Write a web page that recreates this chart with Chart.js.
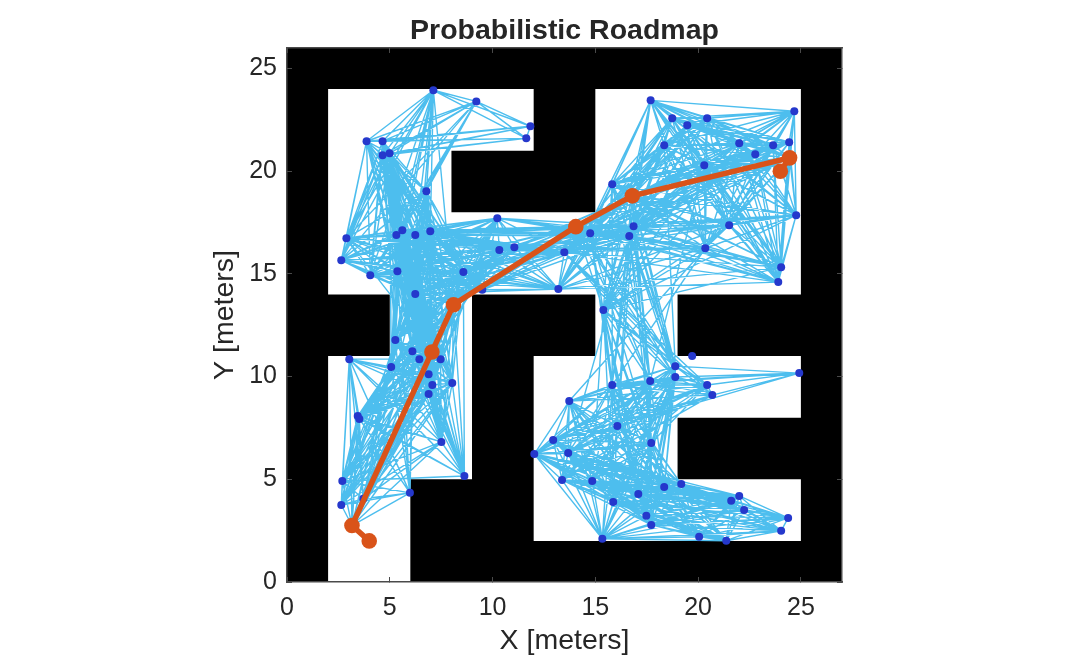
<!DOCTYPE html>
<html><head><meta charset="utf-8">
<style>html,body{margin:0;padding:0;background:#fff;overflow:hidden}canvas{display:block}</style>
<script src="https://cdn.jsdelivr.net/npm/chart.js@4"></script></head>
<body><canvas id="c" width="1092" height="657"></canvas>
<script>
const titleText = "Probabilistic Roadmap";
const xLabel = "X [meters]";
const yLabel = "Y [meters]";
const xLimits = [0, 27];
const yLimits = [0, 26];
const tickStep = 5;
// outline of the free (white) space of the occupancy map
const freeOutlineX = [2,6,6,9,9,15,15,12,12,25,25,19,19,25,25,19,19,25,25,15,15,8,8,12,12,2,2,5,5,2,2];
const freeOutlineY = [0,0,5,5,14,14,11,11,2,2,5,5,8,8,11,11,14,14,24,24,18,18,21,21,24,24,14,14,11,11,0];
const nodeX = [7.12,9.21,11.84,11.64,3.87,4.65,4.99,4.65,6.78,10.23,2.89,2.64,4.05,5.37,5.32,5.61,6.24,6.97,10.33,11.06,13.49,13.20,8.58,6.24,9.50,
  17.69,24.68,18.74,19.47,20.44,18.35,22.00,23.65,24.43,22.78,20.30,15.82,14.75,16.86,16.65,21.51,24.77,20.35,24.04,23.90,15.39,
  5.27,6.10,6.44,7.47,3.03,5.07,6.89,8.04,7.07,6.89,3.44,3.52,7.51,8.63,2.69,5.98,2.64,3.71,12.03,12.95,
  19.71,18.89,18.89,24.92,20.44,20.69,15.82,17.67,13.73,16.07,17.72,13.68,13.38,14.85,19.18,18.35,17.09,15.87,22.00,21.61,22.24,24.38,24.04,17.48,17.72,20.05,21.37,15.34];
const nodeY = [23.94,23.40,22.19,21.60,21.46,21.46,20.87,20.78,19.03,17.71,16.74,15.67,14.94,15.13,16.89,17.13,16.89,17.08,16.16,16.30,16.06,14.26,15.09,14.02,14.23,
  23.45,22.92,22.58,22.24,22.58,21.26,21.36,21.26,21.41,20.83,20.29,19.37,16.98,17.32,16.84,17.37,17.86,16.25,15.33,14.60,13.24,
  11.78,11.24,10.85,10.85,10.85,10.47,10.12,9.69,9.59,9.15,8.08,7.94,6.82,5.16,4.92,4.34,3.75,4.05,6.23,6.91,
  11.00,10.51,9.98,10.17,9.59,9.10,9.59,9.78,8.81,7.60,6.77,6.28,4.97,4.92,4.77,4.63,4.29,3.90,4.19,3.95,3.51,3.12,2.49,3.22,2.78,2.20,2.01,2.10];
const pathX = [4.0,3.16,7.05,8.10,14.05,16.80,24.45,24.0];
const pathY = [2.0,2.75,11.20,13.50,17.30,18.80,20.65,20.0];
const connectionDistance = 11;

function inFree(x,y){
  let inside=false;
  for(let i=0,j=freeOutlineX.length-2;i<freeOutlineX.length-1;j=i++){
    const xi=freeOutlineX[i],yi=freeOutlineY[i],xj=freeOutlineX[j],yj=freeOutlineY[j];
    if((yi>y)!==(yj>y) && x<(xj-xi)*(y-yi)/(yj-yi)+xi) inside=!inside;
  }
  return inside;
}
function visible(a,b){
  const L=Math.hypot(a.x-b.x,a.y-b.y), n=Math.ceil(L/0.04);
  for(let i=0;i<=n;i++){const t=i/n; if(!inFree(a.x+(b.x-a.x)*t,a.y+(b.y-a.y)*t)) return false;}
  return true;
}
const nodes = nodeX.map((x,i)=>({x,y:nodeY[i]}));
const pathPts = pathX.map((x,i)=>({x,y:pathY[i]}));
const roadmapNodes = nodes.concat(pathPts.slice(1,-1));
const edges = [];
for(let i=0;i<roadmapNodes.length;i++) for(let j=i+1;j<roadmapNodes.length;j++){
  const a=roadmapNodes[i],b=roadmapNodes[j];
  if(Math.hypot(a.x-b.x,a.y-b.y)<=connectionDistance && visible(a,b)) edges.push(a,b,{x:a.x,y:null});
}
const F = '"Liberation Sans", Arial, sans-serif';
const TXT = '#262626', AX='#4a4a4a';
const sz=(w,h)=>s=>{ if(w!==null) s.width=w; if(h!==null) s.height=h; };
const gridCfg={drawOnChartArea:false,drawTicks:true,tickLength:-5,color:AX,lineWidth:1,z:2};
new Chart(document.getElementById('c'),{
  type:'line',
  data:{datasets:[
    {data:[{x:xLimits[0],y:yLimits[0]},{x:xLimits[1],y:yLimits[0]},{x:xLimits[1],y:yLimits[1]},{x:xLimits[0],y:yLimits[1]},{x:xLimits[0],y:yLimits[0]}],
     fill:'shape',backgroundColor:'#000000',borderWidth:0,pointRadius:0,order:9},
    {data:freeOutlineX.map((x,i)=>({x,y:freeOutlineY[i]})),fill:'shape',backgroundColor:'#ffffff',borderWidth:0,pointRadius:0,tension:0,order:8},
    {data:edges,borderColor:'#4DBEEE',borderWidth:1.4,pointRadius:0,spanGaps:false,fill:false,tension:0,order:3},
    {data:nodes,showLine:false,pointRadius:4,pointBackgroundColor:'#2538CC',pointBorderWidth:0,order:2},
    {data:pathPts,borderColor:'#D95319',borderWidth:5.5,pointRadius:7.8,pointBackgroundColor:'#D95319',pointBorderWidth:0,tension:0,fill:false,order:1}
  ]},
  options:{
    responsive:false,animation:false,devicePixelRatio:1,
    layout:{padding:{left:207,right:220,top:6,bottom:0}},
    plugins:{legend:{display:false},tooltip:{enabled:false},
      title:{display:true,text:titleText,fullSize:false,color:TXT,font:{family:F,size:28.5,weight:'bold',lineHeight:1.15},padding:{top:9,bottom:0.2}}},
    scales:{
      x:{type:'linear',position:'bottom',min:xLimits[0],max:xLimits[1],afterFit:sz(null,75),
        grid:gridCfg,border:{color:AX,width:1.5,z:2},
        ticks:{stepSize:tickStep,includeBounds:false,color:TXT,font:{family:F,size:25},padding:16,maxRotation:0},
        title:{display:true,text:xLabel,color:TXT,font:{family:F,size:28.5},padding:{top:0,bottom:-1}}},
      y:{type:'linear',position:'left',min:yLimits[0],max:yLimits[1],afterFit:sz(80,null),
        grid:gridCfg,border:{color:AX,width:1.5,z:2},
        ticks:{stepSize:tickStep,includeBounds:false,color:TXT,font:{family:F,size:25},padding:15},
        title:{display:true,text:yLabel,color:TXT,font:{family:F,size:28.5},padding:{top:1.5,bottom:0}}},
      x2:{type:'linear',position:'top',min:xLimits[0],max:xLimits[1],afterFit:sz(null,0),
        grid:gridCfg,border:{color:AX,width:1.5,z:2},ticks:{display:false,stepSize:tickStep,includeBounds:false}},
      y2:{type:'linear',position:'right',min:yLimits[0],max:yLimits[1],afterFit:sz(30,null),
        grid:gridCfg,border:{color:AX,width:1.5,z:2},ticks:{display:false,stepSize:tickStep,includeBounds:false}}
    }
  }
});
</script></body></html>
